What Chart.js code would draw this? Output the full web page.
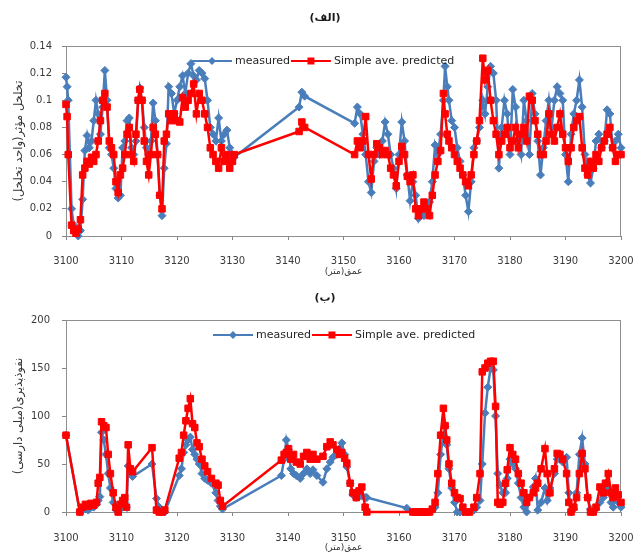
<!DOCTYPE html>
<html>
<head>
<meta charset="utf-8">
<script src="https://cdn.jsdelivr.net/npm/chart.js@4.4.1/dist/chart.umd.min.js"></script>
<style>
  html, body { margin: 0; padding: 0; background: #fff; }
  #wrap { position: relative; width: 634px; height: 554px; }
  .box { position: absolute; left: 0; width: 634px; }
  #boxA { top: 0; height: 280px; }
  #boxB { top: 280px; height: 274px; }
</style>
</head>
<body>
<div id="wrap">
  <div class="box" id="boxA"><canvas id="chartA"></canvas></div>
  <div class="box" id="boxB"><canvas id="chartB"></canvas></div>
</div>
<script>
// depth ticks shared by both panels
const xTickLabels = ['3100', '3110', '3120', '3130', '3140', '3150', '3160', '3170', '3180', '3190', '3200'];
const seriesNames = ['measured', 'Simple ave. predicted'];

// panel (الف) : effective porosity
const yTickLabelsA = ['0', '0.02', '0.04', '0.06', '0.08', '0.1', '0.12', '0.14'];
const depthA = [
  3100.0, 3100.2, 3100.4, 3101.0, 3101.4, 3101.8, 3102.2, 3102.6, 3103.0, 3103.4,
  3103.8, 3104.2, 3104.6, 3105.0, 3105.4, 3105.8, 3106.2, 3106.6, 3107.0, 3107.4,
  3107.8, 3108.2, 3108.6, 3109.0, 3109.4, 3109.8, 3110.2, 3110.6, 3111.0, 3111.4,
  3111.8, 3112.2, 3112.6, 3113.0, 3113.3, 3113.7, 3114.1, 3114.5, 3114.9, 3115.3,
  3115.7, 3116.1, 3116.5, 3116.9, 3117.3, 3117.7, 3118.1, 3118.5, 3119.0, 3119.5,
  3120.0, 3120.5, 3121.0, 3121.5, 3122.0, 3122.5, 3123.0, 3123.5, 3124.0, 3124.5,
  3125.0, 3125.5, 3126.0, 3126.5, 3127.0, 3127.5, 3128.0, 3128.5, 3129.0, 3129.5,
  3130.0, 3130.3, 3142.0, 3142.5, 3143.0, 3152.0, 3152.5, 3153.0, 3153.5, 3154.0,
  3154.5, 3155.0, 3155.5, 3156.0, 3156.5, 3157.0, 3157.5, 3158.0, 3158.5, 3159.0,
  3159.5, 3160.0, 3160.5, 3161.0, 3161.5, 3162.0, 3162.5, 3163.0, 3163.5, 3164.0,
  3164.5, 3165.0, 3165.5, 3166.0, 3166.5, 3167.0, 3167.5, 3168.0, 3168.3, 3168.7,
  3169.0, 3169.5, 3170.0, 3170.5, 3171.0, 3171.5, 3172.0, 3172.5, 3173.0, 3173.5,
  3174.0, 3174.5, 3175.1, 3175.5, 3176.0, 3176.5, 3177.0, 3177.5, 3178.0, 3178.5,
  3179.0, 3179.5, 3180.0, 3180.5, 3181.0, 3181.5, 3182.0, 3182.5, 3183.0, 3183.5,
  3184.0, 3184.5, 3185.0, 3185.5, 3186.0, 3186.5, 3187.0, 3187.5, 3188.0, 3188.5,
  3189.0, 3189.5, 3190.0, 3190.5, 3191.0, 3191.5, 3192.0, 3192.5, 3193.0, 3193.5,
  3194.0, 3194.5, 3195.0, 3195.5, 3196.0, 3196.5, 3197.0, 3197.5, 3198.0, 3198.5,
  3199.0, 3199.5, 3200.0
];
const measuredA = [
  0.117, 0.110, 0.100, 0.020, 0.008, 0.003, 0.000, 0.004, 0.027, 0.063,
  0.074, 0.065, 0.070, 0.085, 0.100, 0.090, 0.075, 0.095, 0.122, 0.100,
  0.065, 0.060, 0.050, 0.035, 0.028, 0.030, 0.065, 0.070, 0.085, 0.087,
  0.065, 0.060, 0.070, 0.100, 0.109, 0.100, 0.080, 0.065, 0.060, 0.070,
  0.098, 0.085, 0.060, 0.030, 0.015, 0.050, 0.068, 0.110, 0.105, 0.090,
  0.100, 0.110, 0.118, 0.105, 0.120, 0.127, 0.118, 0.115, 0.122, 0.120,
  0.116, 0.100, 0.080, 0.075, 0.070, 0.087, 0.070, 0.075, 0.078, 0.065,
  0.060, 0.058, 0.095, 0.106, 0.103, 0.083, 0.095, 0.090, 0.075, 0.060,
  0.040, 0.032, 0.055, 0.065, 0.060, 0.070, 0.084, 0.075, 0.060, 0.050,
  0.035, 0.060, 0.084, 0.070, 0.045, 0.026, 0.040, 0.030, 0.013, 0.020,
  0.015, 0.018, 0.025, 0.040, 0.067, 0.060, 0.075, 0.100, 0.125, 0.110,
  0.100, 0.085, 0.080, 0.065, 0.055, 0.045, 0.030, 0.018, 0.040, 0.065,
  0.070, 0.080, 0.100, 0.090, 0.110, 0.125, 0.120, 0.100, 0.050, 0.080,
  0.100, 0.090, 0.060, 0.108, 0.095, 0.070, 0.060, 0.100, 0.085, 0.060,
  0.105, 0.090, 0.070, 0.045, 0.065, 0.085, 0.100, 0.080, 0.100, 0.110,
  0.105, 0.100, 0.060, 0.040, 0.075, 0.090, 0.100, 0.115, 0.095, 0.060,
  0.045, 0.039, 0.050, 0.070, 0.075, 0.065, 0.070, 0.093, 0.090, 0.065,
  0.070, 0.075, 0.065
];
const predictedA = [
  0.097, 0.088, 0.060, 0.008, 0.004, 0.002, 0.005, 0.012, 0.045, 0.050,
  0.055, 0.053, 0.058, 0.055, 0.060, 0.070, 0.085, 0.100, 0.105, 0.095,
  0.070, 0.065, 0.060, 0.040, 0.032, 0.045, 0.050, 0.060, 0.075, 0.080,
  0.060, 0.055, 0.075, 0.100, 0.108, 0.100, 0.070, 0.055, 0.045, 0.060,
  0.080, 0.075, 0.060, 0.030, 0.020, 0.070, 0.075, 0.090, 0.085, 0.090,
  0.085, 0.084, 0.102, 0.095, 0.100, 0.105, 0.112, 0.090, 0.105, 0.100,
  0.090, 0.080, 0.065, 0.060, 0.055, 0.050, 0.065, 0.055, 0.060, 0.050,
  0.055, 0.060, 0.077, 0.084, 0.080, 0.060, 0.070, 0.065, 0.070, 0.088,
  0.060, 0.042, 0.060, 0.068, 0.065, 0.060, 0.063, 0.060, 0.050, 0.045,
  0.037, 0.055, 0.066, 0.060, 0.044, 0.040, 0.045, 0.020, 0.015, 0.020,
  0.025, 0.020, 0.015, 0.030, 0.045, 0.055, 0.063, 0.105, 0.090, 0.075,
  0.070, 0.065, 0.060, 0.055, 0.050, 0.045, 0.040, 0.037, 0.045, 0.060,
  0.070, 0.085, 0.131, 0.115, 0.122, 0.100, 0.085, 0.075, 0.060, 0.070,
  0.075, 0.080, 0.065, 0.070, 0.080, 0.065, 0.075, 0.080, 0.070, 0.103,
  0.100, 0.085, 0.075, 0.060, 0.060, 0.070, 0.090, 0.075, 0.070, 0.080,
  0.090, 0.075, 0.065, 0.055, 0.065, 0.080, 0.085, 0.088, 0.065, 0.050,
  0.045, 0.055, 0.050, 0.060, 0.055, 0.065, 0.070, 0.075, 0.080, 0.065,
  0.055, 0.060, 0.060
];

// panel (ب) : permeability
const yTickLabelsB = ['0', '50', '100', '150', '200'];
const depthB = [
  3100.0, 3102.5, 3103.0, 3103.5, 3104.0, 3104.5, 3105.0, 3105.5, 3105.8, 3106.1,
  3106.4, 3106.8, 3107.2, 3107.6, 3108.0, 3108.5, 3109.0, 3109.4, 3109.8, 3110.2,
  3110.6, 3110.9, 3111.2, 3111.6, 3112.0, 3115.5, 3116.3, 3116.8, 3117.3, 3117.8,
  3120.4, 3120.8, 3121.2, 3121.6, 3122.0, 3122.4, 3122.8, 3123.2, 3123.6, 3124.0,
  3124.5, 3125.0, 3125.5, 3126.2, 3127.0, 3127.4, 3127.8, 3128.2, 3138.8, 3139.3,
  3139.7, 3140.1, 3140.5, 3141.0, 3141.5, 3142.2, 3142.8, 3143.4, 3144.0, 3144.5,
  3145.2, 3146.3, 3147.0, 3147.6, 3148.1, 3148.8, 3149.3, 3149.7, 3150.2, 3150.6,
  3151.2, 3151.7, 3152.3, 3152.8, 3153.3, 3153.9, 3154.2, 3161.4, 3162.5, 3163.0,
  3163.5, 3164.0, 3164.5, 3165.0, 3165.5, 3166.0, 3166.5, 3167.0, 3167.5, 3168.0,
  3168.3, 3168.6, 3169.0, 3169.5, 3170.0, 3170.5, 3171.0, 3171.5, 3172.0, 3172.7,
  3173.5, 3174.0, 3174.6, 3175.0, 3175.5, 3176.0, 3176.5, 3177.0, 3177.4, 3177.8,
  3178.2, 3178.7, 3179.2, 3179.5, 3180.0, 3180.5, 3181.0, 3181.5, 3182.0, 3182.5,
  3183.0, 3183.5, 3184.2, 3184.6, 3185.0, 3185.6, 3186.3, 3186.7, 3187.2, 3188.0,
  3188.5, 3189.0, 3189.5, 3190.2, 3190.6, 3191.0, 3191.5, 3192.0, 3192.5, 3193.0,
  3193.5, 3194.0, 3194.5, 3195.0, 3195.5, 3196.2, 3196.8, 3197.2, 3197.7, 3198.2,
  3198.6, 3199.0, 3199.5, 3200.0
];
const measuredB = [
  80, 0, 2, 3, 2, 5, 5, 8, 12, 16,
  83, 75, 60, 40, 25, 10, 2, 0, 3, 8,
  10, 5, 48, 40, 37, 50, 14, 5, 0, 0,
  38, 45, 62, 70, 75, 78, 65, 60, 55, 50,
  40, 35, 33, 30, 20, 12, 6, 3, 38, 55,
  75, 65, 45, 40, 38, 35, 40, 45, 40, 44,
  38, 31, 45, 52, 57, 60, 66, 72, 60, 47,
  30, 18, 15, 16, 17, 15, 15, 4, 0, 0,
  0, 0, 0, 0, 0, 2, 5, 20, 60, 80,
  89, 70, 45, 25, 10, 0, 0, 0, 0, 0,
  2, 5, 12, 50, 103, 130, 150, 148, 100, 40,
  28, 20, 20, 35, 55, 50, 45, 30, 15, 5,
  0, 15, 26, 35, 2, 10, 25, 12, 25, 40,
  55, 55, 52, 57, 20, 0, 3, 20, 60, 77,
  50, 15, 3, 0, 3, 10, 15, 20, 25, 10,
  5, 20, 10, 5
];
const predictedB = [
  80, 0, 5, 8, 6, 9, 7, 10, 30, 36,
  94, 90, 88, 60, 40, 20, 5, 0, 8, 12,
  15, 5, 70, 45, 42, 67, 2, 0, 0, 2,
  56, 62, 80, 95, 108, 118, 92, 88, 72, 68,
  55, 48, 42, 35, 30, 28, 12, 6, 54, 60,
  62, 66, 55, 60, 52, 50, 58, 62, 55, 60,
  55, 58, 68, 73, 70, 65, 60, 62, 56, 51,
  30, 20, 15, 22, 26, 5, 0, null, 0, 0,
  0, 0, 0, 0, 0, 3, 10, 40, 80, 108,
  90, 75, 50, 30, 20, 15, 14, 5, 0, 0,
  5, 15, 40, 146, 150, 155, 157, 157, 110, 10,
  8, 10, 30, 44, 67, 60, 55, 40, 30, 20,
  10, 15, 20, 25, 30, 45, 66, 40, 20, 45,
  61, 60, 55, 40, 10, 0, 5, 15, 40, 61,
  45, 15, 0, 0, 5, 26, 20, 30, 40, 20,
  15, 25, 18, 10
];

Chart.defaults.font.family = '"DejaVu Sans", sans-serif';
Chart.defaults.color = '#3a3a3a';

// gray box round the plot area, like the spreadsheet frame
const frame = {
  id: 'frame',
  beforeDatasetsDraw(chart) {
    const { ctx, chartArea: a } = chart;
    ctx.save();
    ctx.strokeStyle = '#8e8e8e';
    ctx.lineWidth = 1;
    ctx.strokeRect(Math.round(a.left) + 0.5, Math.round(a.top) + 0.5,
      Math.round(a.right - a.left) - 1, Math.round(a.bottom - a.top));
    ctx.restore();
  }
};

// legend drawn inside the plot: line with marker, then label
const lineLegend = {
  id: 'lineLegend',
  afterDatasetsDraw(chart, args, opts) {
    const { ctx, chartArea: a } = chart;
    const y = a.top + opts.dy;
    let x = opts.x;
    ctx.save();
    ctx.font = '11px "DejaVu Sans"';
    ctx.textBaseline = 'middle';
    ctx.textAlign = 'left';
    chart.data.datasets.forEach(ds => {
      ctx.strokeStyle = ds.borderColor;
      ctx.fillStyle = ds.borderColor;
      ctx.lineWidth = 2;
      ctx.beginPath();
      ctx.moveTo(x, y);
      ctx.lineTo(x + 40, y);
      ctx.stroke();
      const m = x + 20;
      ctx.beginPath();
      if (ds.pointStyle === 'rectRot') {
        ctx.moveTo(m, y - 4); ctx.lineTo(m + 4, y); ctx.lineTo(m, y + 4); ctx.lineTo(m - 4, y);
      } else {
        ctx.rect(m - 3.5, y - 3.5, 7, 7);
      }
      ctx.closePath();
      ctx.fill();
      ctx.fillStyle = '#262626';
      ctx.fillText(ds.label, x + 43, y);
      x += 43 + ctx.measureText(ds.label).width + 1;
    });
    ctx.restore();
  }
};

function toPoints(depths, values) {
  return depths.map((d, i) => ({ x: d, y: values[i] }));
}

function makePanel(id, p) {
  const axisColor = '#868686';
  return new Chart(document.getElementById(id), {
    type: 'line',
    data: {
      datasets: [
        {
          label: seriesNames[0],
          data: toPoints(p.depth, p.measured),
          borderColor: '#4a7ebb',
          backgroundColor: '#4a7ebb',
          borderWidth: 2.5,
          pointStyle: 'rectRot',
          pointRadius: 4,
          pointBorderWidth: 1,
          spanGaps: true,
          clip: false,
          order: 2
        },
        {
          label: seriesNames[1],
          data: toPoints(p.depth, p.predicted),
          borderColor: '#ff0000',
          backgroundColor: '#ff0000',
          borderWidth: 2.5,
          pointStyle: 'rect',
          pointRadius: 4.6,
          pointBorderWidth: 1,
          spanGaps: true,
          clip: false,
          order: 1
        }
      ]
    },
    options: {
      responsive: true,
      maintainAspectRatio: false,
      animation: false,
      layout: { padding: { left: 16, right: 0, top: 0, bottom: 0 } },
      plugins: {
        legend: { display: false },
        tooltip: { enabled: false },
        title: {
          display: true,
          text: p.title,
          font: { size: 11, weight: 'bold' },
          color: '#1a1a1a',
          padding: { top: 11.4, bottom: p.titleGap }
        },
        lineLegend: { x: p.legendX, dy: 15 }
      },
      scales: {
        x: {
          type: 'linear',
          min: 3100,
          max: 3200,
          afterFit: s => { s.height = p.xAxisH; s.paddingRight = 13; },
          border: { color: axisColor, width: 1 },
          grid: { drawOnChartArea: false, tickLength: 4, color: axisColor },
          ticks: {
            stepSize: 10,
            maxRotation: 0,
            padding: p.xTickPad,
            font: { size: 10 },
            callback: (v, i) => xTickLabels[i]
          },
          title: {
            display: true,
            text: 'عمق(متر)',
            font: { size: 9 },
            color: '#333',
            padding: { top: 0, bottom: p.xTitlePad }
          }
        },
        y: {
          min: 0,
          max: p.yMax,
          afterFit: s => { s.width = 50; },
          border: { color: axisColor, width: 1 },
          grid: { drawOnChartArea: false, tickLength: 4, color: axisColor },
          ticks: {
            stepSize: p.yStep,
            padding: p.yTickPad,
            font: { size: 10 },
            callback: (v, i) => p.yLabels[i]
          },
          title: {
            display: true,
            text: p.yTitle,
            font: { size: 11.5 },
            color: '#333',
            padding: { top: -3.9, bottom: 0 }
          }
        }
      }
    },
    plugins: [frame, lineLegend]
  });
}

makePanel('chartA', {
  title: '(الف)',
  titleGap: 21.4,
  depth: depthA,
  measured: measuredA,
  predicted: predictedA,
  yMax: 0.14,
  yStep: 0.02,
  yLabels: yTickLabelsA,
  yTitle: 'تخلخل مؤثر(واحد تخلخل)',
  yTickPad: 10,
  xAxisH: 44,
  xTickPad: 15,
  xTitlePad: 2.6,
  legendX: 192
});

makePanel('chartB', {
  title: '(ب)',
  titleGap: 15.4,
  depth: depthB,
  measured: measuredB,
  predicted: predictedB,
  yMax: 200,
  yStep: 50,
  yLabels: yTickLabelsB,
  yTitle: 'نفوذپذیری(میلی دارسی)',
  yTickPad: 12,
  xAxisH: 42,
  xTickPad: 16,
  xTitlePad: 0.6,
  legendX: 213
});
</script>
</body>
</html>
